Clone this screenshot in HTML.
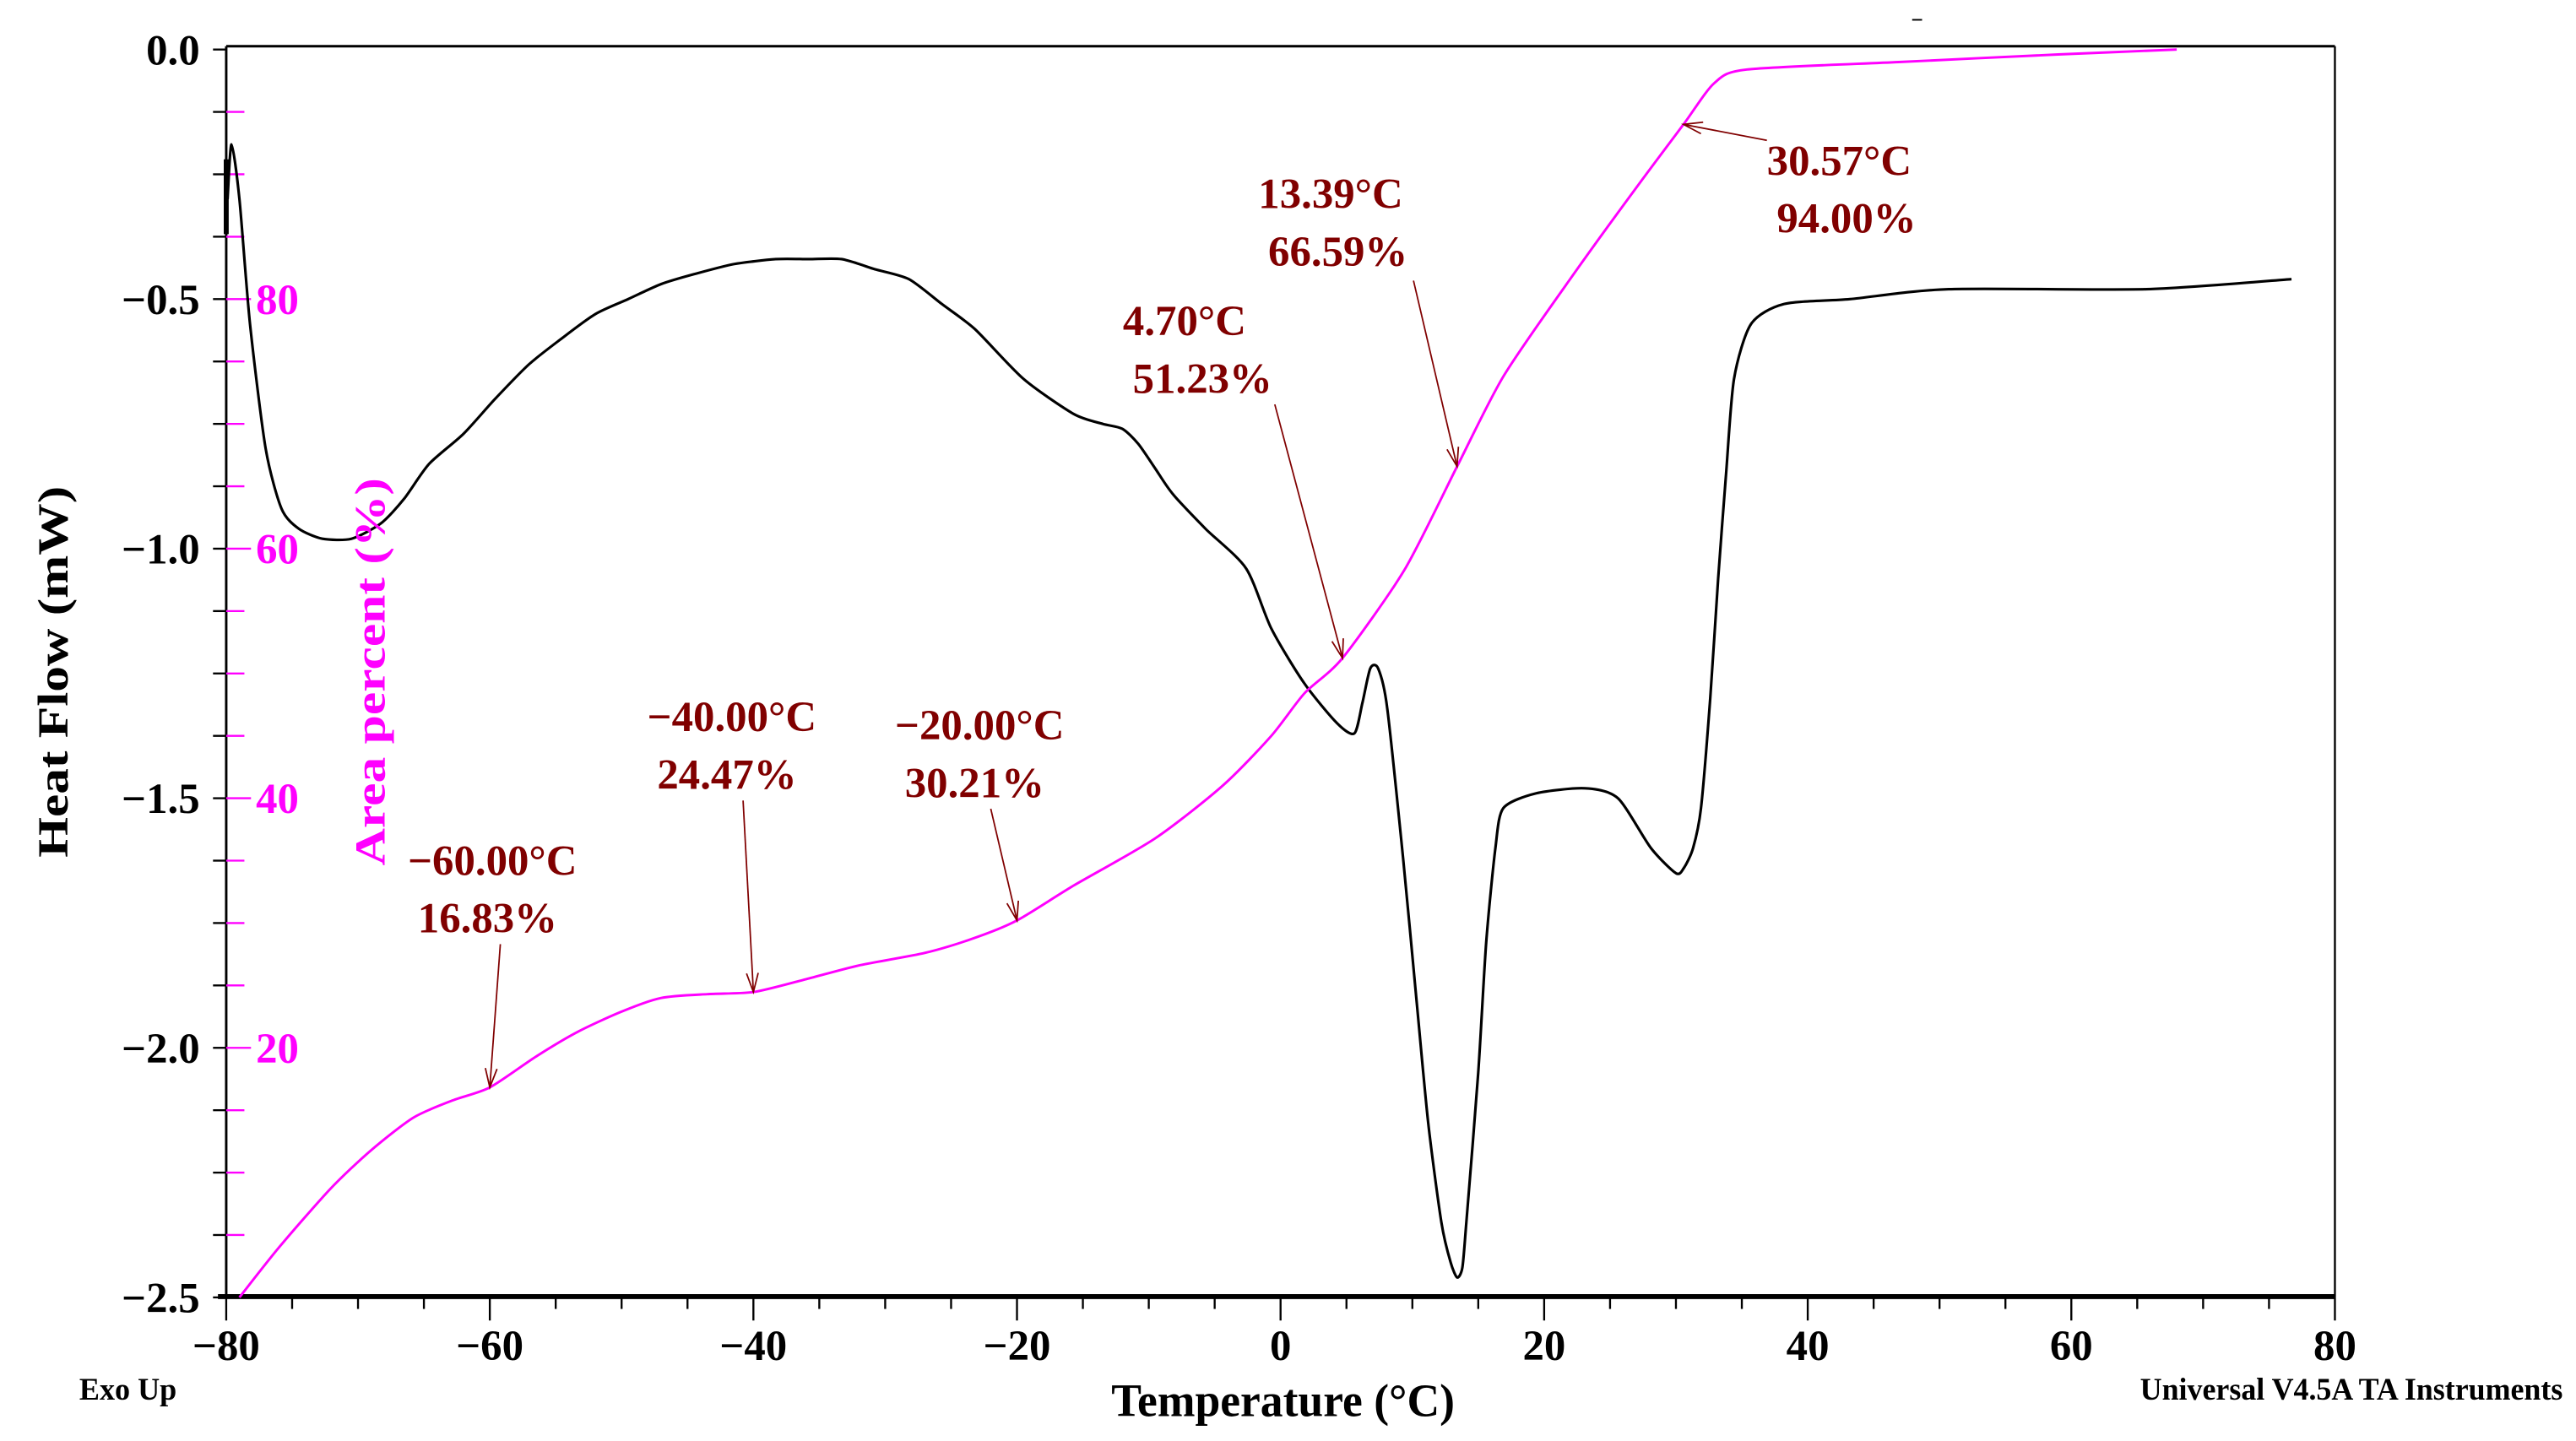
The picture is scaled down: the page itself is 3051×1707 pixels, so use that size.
<!DOCTYPE html>
<html><head><meta charset="utf-8"><style>
html,body{margin:0;padding:0;background:#fff;}
svg{display:block;font-family:"Liberation Serif",serif;font-weight:bold;}
</style></head><body>
<svg id="chart" width="3051" height="1707" viewBox="0 0 1560 873" preserveAspectRatio="none" xmlns="http://www.w3.org/2000/svg">
<g id="frame">
<line x1="137" y1="28" x2="1414" y2="28" stroke="#000" stroke-width="1.5"/>
<line x1="1414" y1="28" x2="1414" y2="786" stroke="#000" stroke-width="1.2"/>
<line x1="137" y1="28" x2="137" y2="786" stroke="#000" stroke-width="1.5"/>
<line x1="132" y1="785.5" x2="1414" y2="785.5" stroke="#000" stroke-width="3"/>
</g>
<g id="ticks"></g>
<g id="curves"></g>
<g id="annots"></g>
<text transform="translate(41,407) rotate(-90)" text-anchor="middle" font-size="26" fill="#000" textLength="225" lengthAdjust="spacingAndGlyphs">Heat Flow (mW)</text>
<text transform="translate(233,407) rotate(-90)" text-anchor="middle" font-size="26" fill="#ff00ff" textLength="235" lengthAdjust="spacingAndGlyphs">Area percent (%)</text>
<text x="777" y="858" text-anchor="middle" font-size="28" fill="#000" textLength="208" lengthAdjust="spacingAndGlyphs">Temperature (°C)</text>
<text x="48" y="848" font-size="19" fill="#000" textLength="59" lengthAdjust="spacingAndGlyphs">Exo Up</text>
<text x="1552" y="848" text-anchor="end" font-size="19" fill="#000" textLength="256" lengthAdjust="spacingAndGlyphs">Universal V4.5A TA Instruments</text>
<line x1="1158" y1="12" x2="1164" y2="12" stroke="#000" stroke-width="1"/>
</svg>
<script>
const heatT = [-79.9,-79.6,-79.0,-78.2,-77.0,-75.8,-74.5,-72.7,-70.5,-68.3,-66.5,-64.6,-62.0,-59.6,-57.0,-54.6,-52.0,-49.5,-47.0,-44.5,-41.5,-38.3,-35.8,-33.3,-30.8,-28.2,-25.7,-23.2,-19.5,-15.7,-13.5,-12.0,-10.8,-9.5,-8.2,-5.7,-2.6,-0.7,1.8,4.3,5.6,6.2,6.8,7.4,8.1,9.3,10.3,11.2,12.2,12.9,13.4,13.8,14.1,15.0,15.6,16.3,16.9,19.4,23.1,25.6,28.1,30.0,30.6,31.3,31.9,32.6,33.2,33.8,34.4,35.7,38.2,43.2,50.7,65.7,76.7];
const heatFlow = [-0.30,-0.19,-0.30,-0.55,-0.80,-0.92,-0.96,-0.98,-0.98,-0.95,-0.90,-0.83,-0.77,-0.70,-0.63,-0.58,-0.53,-0.50,-0.47,-0.45,-0.43,-0.42,-0.42,-0.42,-0.44,-0.46,-0.51,-0.56,-0.66,-0.73,-0.75,-0.76,-0.79,-0.84,-0.89,-0.96,-1.04,-1.16,-1.27,-1.35,-1.37,-1.31,-1.24,-1.24,-1.32,-1.62,-1.90,-2.15,-2.35,-2.43,-2.46,-2.44,-2.35,-2.05,-1.79,-1.60,-1.52,-1.49,-1.48,-1.50,-1.60,-1.65,-1.64,-1.60,-1.52,-1.30,-1.06,-0.85,-0.66,-0.55,-0.51,-0.50,-0.48,-0.48,-0.46];
const areaT = [-79.0,-76.0,-72.1,-69.0,-65.8,-62.8,-60.0,-56.5,-53.3,-50.0,-47.0,-43.5,-40.0,-36.0,-32.0,-27.0,-23.5,-20.0,-15.7,-9.5,-4.4,-0.7,1.8,4.7,9.4,13.4,16.9,21.9,26.9,30.57,32.9,35.4,46.9,59.0,68.0];
const areaPct = [0,4,8.7,11.8,14.4,15.8,16.83,19.3,21.3,22.9,24.0,24.3,24.47,25.5,26.6,27.6,28.7,30.21,33.0,36.8,41.0,45.0,48.4,51.23,58.3,66.59,73.8,81.5,88.8,94.0,97.3,98.4,99.0,99.6,100];
const annT = [-60,-40,-20,4.70,13.39,30.57];
const annPct = [16.83,24.47,30.21,51.23,66.59,94.00];
const annLine1 = ["\u221260.00\u00b0C","\u221240.00\u00b0C","\u221220.00\u00b0C","4.70\u00b0C","13.39\u00b0C","30.57\u00b0C"];
const annLine2 = ["16.83%","24.47%","30.21%","51.23%","66.59%","94.00%"];
const xTicks = [-80,-60,-40,-20,0,20,40,60,80];
const yTicks = [0,-0.5,-1.0,-1.5,-2.0,-2.5];
const areaTicks = [80,60,40,20];

const NS="http://www.w3.org/2000/svg";
const L=137,R=1414,T=30,B=786;
function xs(t){return L+(t+80)/160*(R-L);}
function ys(v){return T+(-v)/2.5*(B-T);}
function ya(p){return T+(100-p)/100*(B-T);}
function mk(tag,attrs,parent){const e=document.createElementNS(NS,tag);for(const k in attrs)e.setAttribute(k,attrs[k]);parent.appendChild(e);return e;}
function smooth(pts){let d='M'+pts[0][0].toFixed(1)+','+pts[0][1].toFixed(1);
 for(let i=0;i<pts.length-1;i++){const p0=pts[Math.max(0,i-1)],p1=pts[i],p2=pts[i+1],p3=pts[Math.min(pts.length-1,i+2)];const k=1/8;
 const c1=[p1[0]+(p2[0]-p0[0])*k,p1[1]+(p2[1]-p0[1])*k],c2=[p2[0]-(p3[0]-p1[0])*k,p2[1]-(p3[1]-p1[1])*k];
 d+=` C${c1[0].toFixed(1)},${c1[1].toFixed(1)} ${c2[0].toFixed(1)},${c2[1].toFixed(1)} ${p2[0].toFixed(1)},${p2[1].toFixed(1)}`;}
 return d;}
const tg=document.getElementById('ticks');
for(let i=0;i<=32;i++){const t=-80+i*5;const major=i%4===0;
 const e=mk('line',{x1:xs(t),y1:786,x2:xs(t),y2:major?800:793,stroke:'#000','stroke-width':1.2},tg);
 
 }
xTicks.forEach(t=>{const e=mk('text',{x:xs(t),y:824,'text-anchor':'middle','font-size':26,fill:'#000'},tg);e.textContent=(t<0?'\u2212':'')+Math.abs(t);
 
 });
for(let i=0;i<=20;i++){const p=i*5;const y=ya(p);
 const e=mk('line',{x1:129,y1:y,x2:137,y2:y,stroke:'#000','stroke-width':1.2},tg);
 
 
 if(i>0&&i<20){const m=mk('line',{x1:137,y1:y,x2:(p%20===0)?152:148,y2:y,stroke:'#ff00ff','stroke-width':1.2},tg);
 
 }}
yTicks.forEach(v=>{const e=mk('text',{x:121,y:ys(v)+9,'text-anchor':'end','font-size':26,fill:'#000'},tg);e.textContent=(v<0?'\u2212':'')+Math.abs(v).toFixed(1);
 
 });
areaTicks.forEach(p=>{const e=mk('text',{x:155,y:ya(p)+9,'font-size':26,fill:'#ff00ff'},tg);e.textContent=p;
 
 });
const cg=document.getElementById('curves');
const s1=mk('line',{x1:137,y1:ys(-0.22),x2:137,y2:ys(-0.37),stroke:'#000','stroke-width':3},cg);


const hf=mk('path',{d:smooth(heatT.map((t,i)=>[xs(t),ys(heatFlow[i])])),fill:'none',stroke:'#000','stroke-width':1.6,'stroke-linejoin':'round'},cg);


const ac=mk('path',{d:smooth(areaT.map((t,i)=>[xs(t),ya(areaPct[i])])),fill:'none',stroke:'#ff00ff','stroke-width':1.5,'stroke-linejoin':'round'},cg);


const ag=document.getElementById('annots');
const textPos=[[247,530,303,572],[392,443,450,485],[542,448,600,490],[680,203,772,245],[762,126,856,170],[1070,106,1070,85]];
annT.forEach((t,i)=>{const [tx,ty,sx,sy]=textPos[i];
 const a=mk('text',{x:tx,y:ty,'font-size':26,fill:'#800000'},ag);a.textContent=annLine1[i];
 
 
 const b=mk('text',{x:tx+6,y:ty+35,'font-size':26,fill:'#800000'},ag);b.textContent=annLine2[i];
 
 
 const ex=xs(t),ey=ya(annPct[i]);
 const ln=mk('line',{x1:sx,y1:sy,x2:ex,y2:ey,stroke:'#800000','stroke-width':0.9},ag);
 
 
 const ang=Math.atan2(ey-sy,ex-sx),h=12,w=0.3;
 const hd=mk('path',{d:`M${ex-h*Math.cos(ang-w)},${ey-h*Math.sin(ang-w)} L${ex},${ey} L${ex-h*Math.cos(ang+w)},${ey-h*Math.sin(ang+w)}`,fill:'none',stroke:'#800000','stroke-width':0.9},ag);
 
 });
</script>
</body></html>
